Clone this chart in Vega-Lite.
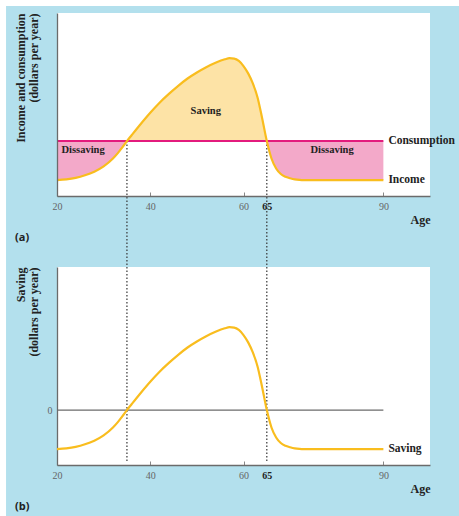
{
  "$schema": "https://vega.github.io/schema/vega-lite/v6.json",
  "background": "white",
  "padding": {"left": 6, "top": 6, "right": 0, "bottom": 0},
  "datasets": {
    "life": [
      {"age": 20, "income": 8.7, "saving": -21.3},
      {"age": 22, "income": 9.1, "saving": -20.9},
      {"age": 24, "income": 9.9, "saving": -20.1},
      {"age": 26, "income": 11.3, "saving": -18.7},
      {"age": 28, "income": 13.3, "saving": -16.7},
      {"age": 30, "income": 16.2, "saving": -13.8},
      {"age": 32, "income": 20.5, "saving": -9.5},
      {"age": 33, "income": 23.3, "saving": -6.7},
      {"age": 34, "income": 26.6, "saving": -3.4},
      {"age": 35, "income": 30, "saving": 0},
      {"age": 36, "income": 33.2, "saving": 3.2},
      {"age": 38, "income": 39.5, "saving": 9.5},
      {"age": 40, "income": 45.5, "saving": 15.5},
      {"age": 42, "income": 51, "saving": 21},
      {"age": 44, "income": 55.8, "saving": 25.8},
      {"age": 46, "income": 60.2, "saving": 30.2},
      {"age": 48, "income": 64.2, "saving": 34.2},
      {"age": 50, "income": 67.5, "saving": 37.5},
      {"age": 52, "income": 70.4, "saving": 40.4},
      {"age": 54, "income": 72.8, "saving": 42.8},
      {"age": 56, "income": 74.7, "saving": 44.7},
      {"age": 57, "income": 75.3, "saving": 45.3},
      {"age": 58, "income": 75.1, "saving": 45.1},
      {"age": 59, "income": 73.8, "saving": 43.8},
      {"age": 60, "income": 71, "saving": 41},
      {"age": 61, "income": 67, "saving": 37},
      {"age": 62, "income": 61.5, "saving": 31.5},
      {"age": 63, "income": 54, "saving": 24},
      {"age": 64, "income": 42.5, "saving": 12.5},
      {"age": 65, "income": 30, "saving": 0},
      {"age": 66, "income": 20.5, "saving": -9.5},
      {"age": 67, "income": 15, "saving": -15},
      {"age": 68, "income": 12, "saving": -18},
      {"age": 69, "income": 10.5, "saving": -19.5},
      {"age": 70, "income": 9.7, "saving": -20.3},
      {"age": 71, "income": 9.1, "saving": -20.9},
      {"age": 72, "income": 8.8, "saving": -21.2},
      {"age": 73, "income": 8.7, "saving": -21.3},
      {"age": 90, "income": 8.7, "saving": -21.3}
    ],
    "ages": [{"age": 35}, {"age": 65}],
    "one": [{"n": 1}]
  },
  "config": {
    "view": {"fill": "white", "stroke": null},
    "font": "Liberation Serif",
    "axis": {"grid": false, "domainColor": "#6b6b6b", "domainWidth": 1.3},
    "text": {"font": "Liberation Serif", "fontWeight": "bold", "color": "#222"}
  },
  "spacing": 71,
  "bounds": "flush",
  "vconcat": [
    {
      "width": 373,
      "height": 183,
      "layer": [
        {
          "data": {"name": "one"},
          "mark": {"type": "rect", "fill": "#b3e0ed"},
          "encoding": {
            "x": {
              "datum": 9.07, "type": "quantitative",
              "scale": {"domain": [20, 100], "nice": false, "zero": false},
              "axis": {
                "zindex": 2,
                "values": [20, 40, 60, 65, 90], "title": "Age", "titleAnchor": "end",
                "titleFontWeight": "bold", "titleFontSize": 12, "titleColor": "#222", "titlePadding": 3,
                "labelFontSize": 10, "labelFlush": false, "labelOverlap": false,
                "labelColor": {"condition": {"test": "datum.value == 65", "value": "#222"}, "value": "#666"},
                "labelFontWeight": {"condition": {"test": "datum.value == 65", "value": "bold"}, "value": "normal"},
                "tickColor": {"condition": {"test": "datum.value == 65", "value": "transparent"}, "value": "#888"},
                "tickSize": -4, "labelPadding": 9
              }
            },
            "x2": {"datum": 110},
            "y": {
              "datum": 103.8, "type": "quantitative",
              "scale": {"domain": [0, 100], "nice": false, "zero": false},
              "axis": {
                "zindex": 2,
                "title": ["Income and consumption", "(dollars per year)"], "labels": false, "ticks": false,
                "titleAnchor": "end", "titleAlign": "right", "titleBaseline": "top", "titleAngle": -90,
                "titleX": -42, "titleY": 0, "titleFontSize": 12, "titleFontWeight": "bold",
                "titleLineHeight": 13, "titleColor": "#222"
              }
            },
            "y2": {"datum": -180}
          }
        },
        {
          "data": {"name": "one"},
          "mark": {"type": "rect", "fill": "white"},
          "encoding": {"x": {"datum": 20}, "x2": {"datum": 100}, "y": {"datum": 100}, "y2": {"datum": 0}}
        },
        {
          "data": {"name": "life"},
          "transform": [{"filter": "datum.age <= 35"}],
          "mark": {"type": "area", "fill": "#f3a9c9", "interpolate": "monotone"},
          "encoding": {"x": {"field": "age", "type": "quantitative"}, "y": {"field": "income", "type": "quantitative"}, "y2": {"datum": 30}}
        },
        {
          "data": {"name": "life"},
          "transform": [{"filter": "datum.age >= 35 && datum.age <= 65"}],
          "mark": {"type": "area", "fill": "#fde3a6", "interpolate": "monotone"},
          "encoding": {"x": {"field": "age", "type": "quantitative"}, "y": {"field": "income", "type": "quantitative"}, "y2": {"datum": 30}}
        },
        {
          "data": {"name": "life"},
          "transform": [{"filter": "datum.age >= 65"}],
          "mark": {"type": "area", "fill": "#f3a9c9", "interpolate": "monotone"},
          "encoding": {"x": {"field": "age", "type": "quantitative"}, "y": {"field": "income", "type": "quantitative"}, "y2": {"datum": 30}}
        },
        {
          "data": {"name": "one"},
          "mark": {"type": "rule", "stroke": "#e31b7d", "strokeWidth": 2},
          "encoding": {"x": {"datum": 20}, "x2": {"datum": 90}, "y": {"datum": 30}}
        },
        {
          "data": {"name": "ages"},
          "mark": {"type": "rule", "stroke": "#333", "strokeWidth": 1.2, "strokeDash": [1.5, 2]},
          "encoding": {"x": {"field": "age", "type": "quantitative"}, "y": {"datum": 30}, "y2": {"datum": -39}}
        },
        {
          "data": {"name": "life"},
          "mark": {"type": "line", "stroke": "#f9bd1e", "strokeWidth": 2.2, "interpolate": "monotone"},
          "encoding": {"x": {"field": "age", "type": "quantitative"}, "y": {"field": "income", "type": "quantitative"}}
        },
        {"data": {"name": "one"}, "mark": {"type": "text", "fontSize": 10.5, "baseline": "middle"}, "encoding": {"x": {"datum": 51.9}, "y": {"datum": 46.4}, "text": {"value": "Saving"}}},
        {"data": {"name": "one"}, "mark": {"type": "text", "fontSize": 10.5, "baseline": "middle"}, "encoding": {"x": {"datum": 25.6}, "y": {"datum": 25.1}, "text": {"value": "Dissaving"}}},
        {"data": {"name": "one"}, "mark": {"type": "text", "fontSize": 10.5, "baseline": "middle"}, "encoding": {"x": {"datum": 79}, "y": {"datum": 25.1}, "text": {"value": "Dissaving"}}},
        {"data": {"name": "one"}, "mark": {"type": "text", "fontSize": 11.5, "baseline": "middle", "align": "left", "dx": 5}, "encoding": {"x": {"datum": 90}, "y": {"datum": 30}, "text": {"value": "Consumption"}}},
        {"data": {"name": "one"}, "mark": {"type": "text", "fontSize": 11.5, "baseline": "middle", "align": "left", "dx": 5}, "encoding": {"x": {"datum": 90}, "y": {"datum": 8.7}, "text": {"value": "Income"}}},
        {"data": {"name": "one"}, "mark": {"type": "text", "font": "Open Sans", "fontSize": 11, "baseline": "middle", "align": "left"}, "encoding": {"x": {"datum": 11.0}, "y": {"datum": -23}, "text": {"value": "(a)"}}}
      ]
    },
    {
      "width": 373,
      "height": 198,
      "layer": [
        {
          "data": {"name": "one"},
          "mark": {"type": "rule", "stroke": "#6b6b6b", "strokeWidth": 1.1},
          "encoding": {
            "x": {
              "datum": 20, "type": "quantitative",
              "scale": {"domain": [20, 100], "nice": false, "zero": false},
              "axis": {
                "values": [20, 40, 60, 65, 90], "title": "Age", "titleAnchor": "end",
                "titleFontWeight": "bold", "titleFontSize": 12, "titleColor": "#222", "titlePadding": 3,
                "labelFontSize": 10, "labelFlush": false, "labelOverlap": false,
                "labelColor": {"condition": {"test": "datum.value == 65", "value": "#222"}, "value": "#666"},
                "labelFontWeight": {"condition": {"test": "datum.value == 65", "value": "bold"}, "value": "normal"},
                "tickColor": {"condition": {"test": "datum.value == 65", "value": "transparent"}, "value": "#888"},
                "tickSize": -4, "labelPadding": 9
              }
            },
            "x2": {"datum": 90},
            "y": {
              "datum": 0, "type": "quantitative",
              "scale": {"domain": [-30, 78.2], "nice": false, "zero": false},
              "axis": {
                "values": [0], "title": ["Saving", "(dollars per year)"], "ticks": false,
                "labelPadding": 5, "labelFontSize": 10, "labelColor": "#666",
                "titleAnchor": "end", "titleAlign": "right", "titleBaseline": "top", "titleAngle": -90,
                "titleX": -42, "titleY": 0, "titleFontSize": 12, "titleFontWeight": "bold",
                "titleLineHeight": 13, "titleColor": "#222"
              }
            }
          }
        },
        {
          "data": {"name": "ages"},
          "mark": {"type": "rule", "stroke": "#333", "strokeWidth": 1.2, "strokeDash": [1.5, 2]},
          "encoding": {"x": {"field": "age", "type": "quantitative"}, "y": {"datum": 78.2}, "y2": {"datum": -28}}
        },
        {
          "data": {"name": "life"},
          "mark": {"type": "line", "stroke": "#f9bd1e", "strokeWidth": 2.2, "interpolate": "monotone"},
          "encoding": {"x": {"field": "age", "type": "quantitative"}, "y": {"field": "saving", "type": "quantitative"}}
        },
        {"data": {"name": "one"}, "mark": {"type": "text", "fontSize": 11.5, "baseline": "middle", "align": "left", "dx": 5}, "encoding": {"x": {"datum": 90}, "y": {"datum": -21.3}, "text": {"value": "Saving"}}},
        {"data": {"name": "one"}, "mark": {"type": "text", "font": "Open Sans", "fontSize": 11, "baseline": "middle", "align": "left"}, "encoding": {"x": {"datum": 11.0}, "y": {"datum": -53}, "text": {"value": "(b)"}}}
      ]
    }
  ]
}
